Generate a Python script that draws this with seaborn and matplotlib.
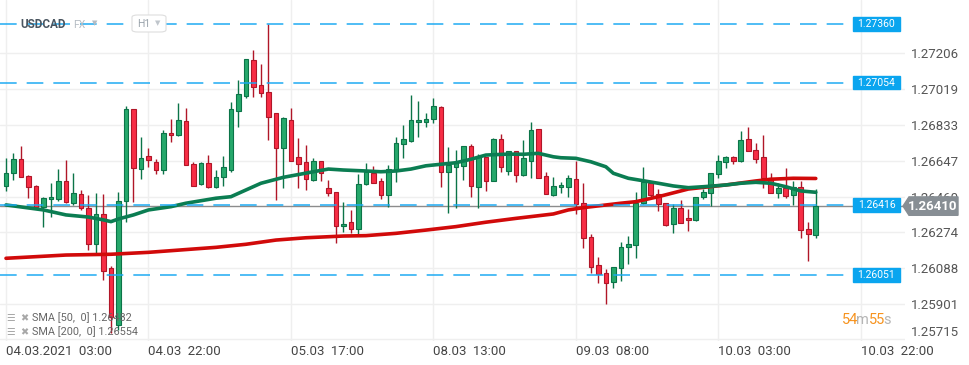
import matplotlib
matplotlib.use("Agg")
import numpy as np
import pandas as pd
import matplotlib.pyplot as plt
import seaborn as sns
from matplotlib.patches import Rectangle, Polygon, FancyBboxPatch

# ---------------------------
# Data (USDCAD, H1 candles)
# ---------------------------
opens = [1.26516, 1.26580, 1.26654, 1.26567, 1.26513, 1.26404, 1.26445, 1.26447, 1.26541, 1.26428,
         1.26471, 1.26402, 1.26214, 1.26367, 1.26086, 1.25791, 1.26438, 1.26914, 1.26602, 1.26669,
         1.26640, 1.26597, 1.26791, 1.26779, 1.26853, 1.26628, 1.26524, 1.26633, 1.26511, 1.26560,
         1.26598, 1.26907, 1.26985, 1.27170, 1.27039, 1.27003, 1.26893, 1.26711, 1.26857, 1.26664,
         1.26640, 1.26546, 1.26643, 1.26503, 1.26482, 1.26305, 1.26326, 1.26289, 1.26524, 1.26584,
         1.26541, 1.26466, 1.26598, 1.26732, 1.26749, 1.26847, 1.26850, 1.26862, 1.26926, 1.26589,
         1.26615, 1.26621, 1.26723, 1.26511, 1.26664, 1.26542, 1.26760, 1.26594, 1.26696, 1.26572,
         1.26647, 1.26810, 1.26565, 1.26468, 1.26508, 1.26511, 1.26550, 1.26425, 1.26247, 1.26103,
         1.26060, 1.26013, 1.26086, 1.26195, 1.26207, 1.26428, 1.26532, 1.26471, 1.26425, 1.26315,
         1.26402, 1.26348, 1.26336, 1.26459, 1.26477, 1.26576, 1.26638, 1.26664, 1.26647, 1.26758,
         1.26701, 1.26664, 1.26558, 1.26477, 1.26503, 1.26468, 1.26511, 1.26289, 1.26261]
highs = [1.26659, 1.26687, 1.26723, 1.26572, 1.26520, 1.26459, 1.26532, 1.26603, 1.26650, 1.26582,
         1.26494, 1.26468, 1.26477, 1.26473, 1.26100, 1.26485, 1.26932, 1.26918, 1.26770, 1.26714,
         1.26655, 1.26806, 1.26862, 1.26946, 1.26920, 1.26641, 1.26641, 1.26676, 1.26598, 1.26671,
         1.26951, 1.27067, 1.27175, 1.27223, 1.27150, 1.27357, 1.26896, 1.26876, 1.26920, 1.26763,
         1.26728, 1.26659, 1.26646, 1.26546, 1.26485, 1.26430, 1.26390, 1.26576, 1.26635, 1.26619,
         1.26555, 1.26624, 1.26770, 1.26833, 1.26989, 1.26958, 1.26893, 1.26972, 1.26932, 1.26716,
         1.26702, 1.26723, 1.26734, 1.26680, 1.26667, 1.26766, 1.26786, 1.26696, 1.26698, 1.26754,
         1.26847, 1.26812, 1.26586, 1.26560, 1.26534, 1.26572, 1.26647, 1.26529, 1.26263, 1.26143,
         1.26082, 1.26094, 1.26221, 1.26254, 1.26485, 1.26612, 1.26542, 1.26499, 1.26428, 1.26419,
         1.26442, 1.26395, 1.26456, 1.26499, 1.26581, 1.26676, 1.26673, 1.26673, 1.26801, 1.26821,
         1.26737, 1.26780, 1.26581, 1.26529, 1.26607, 1.26541, 1.26541, 1.26329, 1.26499]
lows = [1.26490, 1.26546, 1.26563, 1.26451, 1.26404, 1.26303, 1.26355, 1.26437, 1.26425, 1.26416,
        1.26390, 1.26181, 1.26164, 1.26025, 1.25749, 1.25765, 1.26326, 1.26433, 1.26550, 1.26615,
        1.26577, 1.26579, 1.26746, 1.26775, 1.26623, 1.26516, 1.26520, 1.26506, 1.26506, 1.26516,
        1.26586, 1.26824, 1.26972, 1.26980, 1.26980, 1.26754, 1.26442, 1.26506, 1.26645, 1.26506,
        1.26494, 1.26543, 1.26542, 1.26464, 1.26219, 1.26274, 1.26268, 1.26259, 1.26520, 1.26529,
        1.26447, 1.26407, 1.26537, 1.26662, 1.26745, 1.26772, 1.26824, 1.26845, 1.26511, 1.26376,
        1.26399, 1.26546, 1.26459, 1.26399, 1.26490, 1.26540, 1.26589, 1.26572, 1.26537, 1.26567,
        1.26555, 1.26558, 1.26471, 1.26463, 1.26480, 1.26459, 1.26367, 1.26193, 1.26060, 1.26008,
        1.25898, 1.25985, 1.26021, 1.26107, 1.26141, 1.26419, 1.26459, 1.26386, 1.26308, 1.26268,
        1.26320, 1.26282, 1.26333, 1.26445, 1.26412, 1.26558, 1.26607, 1.26628, 1.26641, 1.26697,
        1.26636, 1.26503, 1.26477, 1.26451, 1.26454, 1.26416, 1.26242, 1.26126, 1.26245]
closes = [1.26581, 1.26654, 1.26563, 1.26511, 1.26404, 1.26454, 1.26459, 1.26541, 1.26433, 1.26477,
          1.26399, 1.26214, 1.26367, 1.26073, 1.25834, 1.26438, 1.26914, 1.26607, 1.26662, 1.26649,
          1.26597, 1.26789, 1.26779, 1.26857, 1.26623, 1.26516, 1.26635, 1.26511, 1.26560, 1.26612,
          1.26914, 1.26992, 1.27175, 1.27032, 1.26998, 1.26876, 1.26711, 1.26867, 1.26645, 1.26628,
          1.26550, 1.26643, 1.26581, 1.26477, 1.26308, 1.26317, 1.26289, 1.26527, 1.26589, 1.26532,
          1.26466, 1.26602, 1.26737, 1.26758, 1.26857, 1.26857, 1.26865, 1.26932, 1.26589, 1.26624,
          1.26633, 1.26723, 1.26516, 1.26667, 1.26542, 1.26760, 1.26615, 1.26696, 1.26572, 1.26659,
          1.26805, 1.26558, 1.26471, 1.26513, 1.26518, 1.26555, 1.26419, 1.26242, 1.26094, 1.26055,
          1.26008, 1.26094, 1.26195, 1.26214, 1.26425, 1.26537, 1.26466, 1.26421, 1.26312, 1.26402,
          1.26320, 1.26336, 1.26456, 1.26482, 1.26581, 1.26645, 1.26664, 1.26647, 1.26753, 1.26697,
          1.26654, 1.26555, 1.26477, 1.26503, 1.26464, 1.26508, 1.26286, 1.26263, 1.26410]

# SMA values read at selected bars
sma50_idx = [0, 5, 8, 11, 13, 14, 15, 17, 19, 22, 24, 28, 30, 32, 34, 37, 41, 43, 45, 48,
             50, 52, 54, 56, 58, 60, 62, 64, 67, 69, 71, 73, 74, 76, 78, 80, 81, 83, 85, 87,
             89, 91, 93, 96, 98, 100, 102, 104, 106, 108]
sma50_val = [1.26416, 1.26390, 1.26364, 1.26353, 1.26338, 1.26329, 1.26343, 1.26364, 1.26390, 1.26407,
             1.26425, 1.26451, 1.26459, 1.26494, 1.26529, 1.26560, 1.26589, 1.26603, 1.26598, 1.26593,
             1.26589, 1.26593, 1.26603, 1.26620, 1.26628, 1.26636, 1.26654, 1.26676, 1.26681, 1.26680,
             1.26685, 1.26667, 1.26662, 1.26659, 1.26641, 1.26615, 1.26581, 1.26555, 1.26542, 1.26529,
             1.26515, 1.26506, 1.26511, 1.26520, 1.26529, 1.26534, 1.26529, 1.26511, 1.26489, 1.26482]
sma200_idx = [0, 8, 14, 19, 28, 32, 36, 40, 45, 48, 52, 56, 60, 64, 68, 73, 75, 77, 82, 84,
              87, 91, 96, 100, 102, 105, 108]
sma200_val = [1.26138, 1.26155, 1.26159, 1.26169, 1.26195, 1.26211, 1.26233, 1.26245, 1.26254, 1.26256,
              1.26268, 1.26285, 1.26303, 1.26326, 1.26346, 1.26369, 1.26390, 1.26402, 1.26425, 1.26433,
              1.26459, 1.26499, 1.26520, 1.26541, 1.26550, 1.26555, 1.26554]

levels = [1.27360, 1.27054, 1.26416, 1.26051]
last_price = 1.26410
y_ticks = [1.25715, 1.25901, 1.26088, 1.26274, 1.26460, 1.26647, 1.26833, 1.27019, 1.27206]
x_tick_pos = [0, 19, 38, 57, 76, 95, 114]
x_tick_labels = ["04.03.2021  03:00", "04.03  22:00", "05.03  17:00", "08.03  13:00",
                 "09.03  08:00", "10.03  03:00", "10.03  22:00"]

df = pd.DataFrame({"open": opens, "high": highs, "low": lows, "close": closes})
df["bar"] = np.arange(len(df))
df["up"] = df["close"] >= df["open"]

# ---------------------------
# Figure
# ---------------------------
sns.set_style("white")
plt.rcParams["font.family"] = ["Roboto", "DejaVu Sans"]

fig = plt.figure(figsize=(9.7, 3.65), dpi=100)
ax = fig.add_axes([0, 24 / 365, 905 / 970, 341 / 365])
ax.set_xlim(-0.8, 119.9)
ax.set_ylim(1.25707, 1.27484)
for s in ax.spines.values():
    s.set_visible(False)

ax.set_yticks(y_ticks)
ax.set_xticks(x_tick_pos)
ax.grid(True, color="#efefef", lw=1, zorder=0)
ax.set_axisbelow(True)

ax.yaxis.tick_right()
ax.set_yticklabels([f"{v:.5f}" for v in y_ticks])
ax.tick_params(axis="y", length=0, pad=4, labelsize=9.5, labelcolor="#555555")
for lab in ax.get_yticklabels():
    if lab.get_text() == "1.25715":
        lab.set_va("bottom")
ax.set_xticklabels(x_tick_labels, ha="left")
ax.tick_params(axis="x", length=0, pad=3, labelsize=9.5, labelcolor="#444444")
ax.set_xlabel("")
ax.set_ylabel("")

# current price line
ax.axhline(last_price, color="#8c8c8c", lw=1, zorder=2)

# candles
green_fill, green_edge = "#26a86b", "#0b7448"
red_fill, red_edge = "#f72d45", "#b01628"
for _, r in df.iterrows():
    fc, ec = (green_fill, green_edge) if r["up"] else (red_fill, red_edge)
    ax.vlines(r["bar"], r["low"], r["high"], color=ec, lw=1, zorder=3)
    lo = min(r["open"], r["close"])
    h = max(abs(r["close"] - r["open"]), 0.00004)
    ax.bar(r["bar"], h, bottom=lo, width=0.62, color=fc, edgecolor=ec, lw=0.8, zorder=4)

# moving averages
sns.lineplot(x=sma200_idx, y=sma200_val, ax=ax, color="#d10a0a", lw=2.6, zorder=5)
sns.lineplot(x=sma50_idx, y=sma50_val, ax=ax, color="#0b7d52", lw=2.6, zorder=6)

# horizontal levels with boxes
tr = ax.get_yaxis_transform()
box_h = 0.00072
for lv in levels:
    ax.axhline(lv, xmin=0, xmax=850 / 905, color="#1aa9f2", lw=1.2,
               dashes=(10, 6), zorder=7, alpha=0.9)
    ax.add_patch(Rectangle((853 / 905, lv - box_h / 2), 47 / 905, box_h,
                           transform=tr, color="#0aa5ef", zorder=8, clip_on=False))
    ax.text(876.5 / 905, lv, f"{lv:.5f}", transform=tr, color="white", fontsize=7.5,
            ha="center", va="center", zorder=9)

# last price tag (drawn over the 1.26460 axis label, as in the source)
ph = 0.00048
tag = Polygon([(903 / 905, last_price), (909 / 905, last_price + ph),
               (958 / 905, last_price + ph), (958 / 905, last_price - ph),
               (909 / 905, last_price - ph)], closed=True, transform=tr,
              color="#878e94", clip_on=False, zorder=9)
ax.add_patch(tag)
ax.text(933 / 905, last_price, f"{last_price:.5f}", transform=tr, color="white",
        fontsize=9.5, fontweight="bold", ha="center", va="center", zorder=10)

# header
fig.text(20 / 970, 1 - 24 / 365, "USDCAD", fontsize=8.5, fontweight="bold", color="#4a5560",
         va="center", ha="left", zorder=10)
fig.text(73 / 970, 1 - 25 / 365, "FX", fontsize=7.5, color="#b5bcc3", va="center", ha="left")
fig.text(95 / 970, 1 - 23 / 365, "▼", fontsize=5, color="#b5bcc3", va="center", ha="center",
         family=["DejaVu Sans"])
hbox = FancyBboxPatch((132 / 970, 1 - 32 / 365), 34 / 970, 17 / 365,
                      boxstyle="round,pad=0,rounding_size=0.006", transform=fig.transFigure,
                      facecolor="white", edgecolor="#dedede", lw=0.8, zorder=9)
fig.patches.append(hbox)
fig.text(137 / 970, 1 - 24 / 365, "H1", fontsize=7.5, color="#9aa3ab", va="center", ha="left",
         zorder=10)
fig.text(158 / 970, 1 - 23 / 365, "▼", fontsize=5, color="#c0c6cc", va="center", ha="center",
         family=["DejaVu Sans"], zorder=10)

# SMA legend
for yy, txt in [(318, "SMA [50,  0] 1.26482"), (332, "SMA [200,  0] 1.26554")]:
    fig.text(6 / 970, 1 - yy / 365, "☰", fontsize=7, color="#a8a8a8", va="center",
             family=["DejaVu Sans"])
    fig.text(20 / 970, 1 - yy / 365, "✖", fontsize=7, color="#a8a8a8", va="center",
             family=["DejaVu Sans"])
    fig.text(32 / 970, 1 - yy / 365, txt, fontsize=7.8, color="#666666", va="center")

# countdown
for xx, txt, col in [(842, "54", "#f7931e"), (856.5, "m", "#b5b5b5"),
                     (869, "55", "#f7931e"), (883.5, "s", "#b5b5b5")]:
    fig.text(xx / 970, 1 - 320 / 365, txt, fontsize=10.5, color=col, va="center", ha="left")

plt.savefig("out.png", dpi=100)
plt.close()
